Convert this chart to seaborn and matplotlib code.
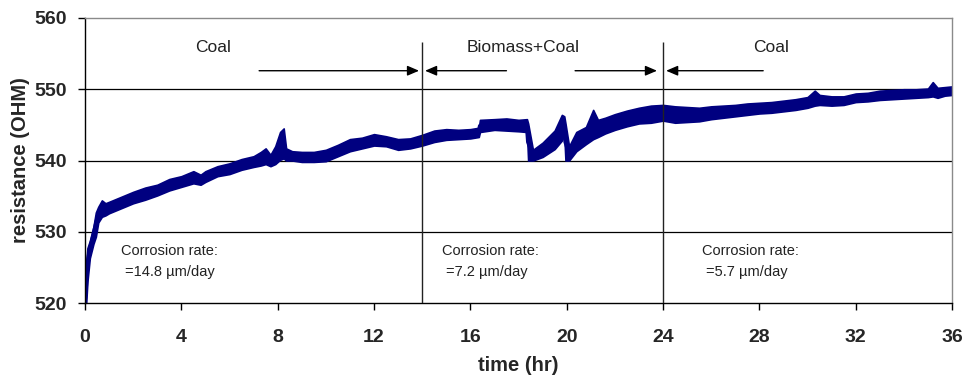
import numpy as np
import pandas as pd
import matplotlib
matplotlib.use("Agg")
import matplotlib.pyplot as plt
import seaborn as sns

# ---- data (lower / upper edge of the noisy trace) ----
time_hr = [0.00, 0.05, 0.10, 0.20, 0.35, 0.45, 0.55, 0.70, 0.85, 1.0, 1.5, 2.0, 2.5,
           3.0, 3.5, 4.0, 4.5, 4.8, 5.0, 5.5, 6.0, 6.5, 7.0, 7.3, 7.5, 7.7, 7.9,
           8.1, 8.25, 8.35, 8.6, 9.0, 9.5, 10.0, 10.5, 11.0, 11.5, 12.0, 12.5,
           13.0, 13.5, 14.0, 14.5, 15.0, 15.5, 16.0, 16.35, 16.4, 17.0, 17.5,
           18.0, 18.35, 18.4, 18.6, 19.0, 19.5, 19.8, 19.9, 19.95, 20.1, 20.4,
           20.8, 21.1, 21.3, 21.6, 22.0, 22.5, 23.0, 23.5, 24.0, 24.5, 25.0,
           25.5, 26.0, 26.5, 27.0, 27.5, 28.0, 28.5, 29.0, 29.5, 30.0, 30.3,
           30.5, 31.0, 31.5, 32.0, 32.5, 33.0, 33.5, 34.0, 34.5, 35.0, 35.2,
           35.4, 35.7, 36.0]
res_lo = [520.0, 520.0, 523.0, 526.3, 528.3, 529.3, 531.3, 532.1, 532.3, 532.6, 533.3,
          534.0, 534.5, 535.1, 535.8, 536.3, 536.8, 536.6, 537.0, 537.8, 538.1,
          538.7, 539.1, 539.3, 539.5, 539.2, 539.5, 540.1, 540.3, 540.0, 540.0,
          539.8, 539.8, 539.9, 540.6, 541.3, 541.7, 542.1, 542.0, 541.5, 541.7,
          542.1, 542.6, 542.9, 543.0, 543.1, 543.3, 544.0, 544.3, 544.2, 544.1,
          544.0, 540.0, 540.0, 540.5, 541.6, 542.8, 543.6, 540.0, 540.0, 541.3,
          542.3, 543.0, 543.3, 543.8, 544.3, 544.8, 545.2, 545.3, 545.6, 545.3,
          545.4, 545.5, 545.8, 546.0, 546.2, 546.4, 546.6, 546.7, 546.9, 547.1,
          547.4, 547.7, 547.8, 547.7, 547.8, 548.2, 548.3, 548.5, 548.6, 548.7,
          548.8, 548.9, 549.0, 548.8, 549.1, 549.2]
res_hi = [521.0, 525.7, 527.7, 528.7, 530.7, 532.7, 533.5, 534.4, 534.0, 534.2, 534.9,
          535.6, 536.2, 536.6, 537.4, 537.8, 538.5, 538.0, 538.5, 539.2, 539.6,
          540.2, 540.6, 541.2, 541.7, 540.8, 542.0, 544.0, 544.5, 541.7, 541.3,
          541.2, 541.2, 541.5, 542.2, 543.0, 543.2, 543.7, 543.4, 543.0, 543.1,
          543.6, 544.2, 544.4, 544.3, 544.4, 544.6, 545.7, 545.8, 545.9, 545.7,
          545.8, 545.2, 541.5, 542.5, 544.2, 546.4, 546.2, 545.2, 542.0, 544.0,
          544.7, 547.1, 545.7, 546.0, 546.5, 547.0, 547.4, 547.7, 547.8, 547.6,
          547.5, 547.4, 547.6, 547.7, 547.8, 548.0, 548.1, 548.2, 548.4, 548.6,
          548.9, 549.8, 549.2, 549.0, 549.0, 549.4, 549.5, 549.8, 549.9, 550.0,
          550.0, 550.1, 551.0, 550.2, 550.3, 550.4]

x_ticks = [0, 4, 8, 12, 16, 20, 24, 28, 32, 36]
y_ticks = [520, 530, 540, 550, 560]
phase_bounds = [14, 24]
phase_labels = ["Coal", "Biomass+Coal", "Coal"]
phase_label_x = [5.3, 18.2, 28.5]
rate_values = ["=14.8 \u00b5m/day", "=7.2 \u00b5m/day", "=5.7 \u00b5m/day"]
rate_x = [1.5, 14.83, 25.62]

sns.set_style("white")
plt.rcParams["font.family"] = ["Liberation Sans", "DejaVu Sans"]

fig = plt.figure(figsize=(9.68, 3.83), dpi=100)
ax = fig.add_axes([85 / 968, 80 / 383, 867 / 968, 285 / 383])

df = pd.DataFrame({"time": np.concatenate([time_hr, time_hr]),
                   "res": np.concatenate([res_lo, res_hi])})
sns.lineplot(data=df, x="time", y="res", estimator="mean", errorbar=("pi", 100),
             color="#000080", lw=3, err_kws={"alpha": 1, "linewidth": 1.2,
                                              "edgecolor": "#000080"}, ax=ax)

ax.set_xlim(0, 36)
ax.set_ylim(520, 560)
ax.set_xticks(x_ticks)
ax.set_yticks(y_ticks)

for yv in y_ticks[1:-1]:
    ax.axhline(yv, color="black", lw=0.9, zorder=0.5)
for xv in phase_bounds:
    ax.vlines(xv, 520, 556.6, color="#222222", lw=1.0, zorder=3)

for s in ["left", "bottom"]:
    ax.spines[s].set_color("black")
    ax.spines[s].set_linewidth(1.0)
for s in ["top", "right"]:
    ax.spines[s].set_color("#8a8a8a")
    ax.spines[s].set_linewidth(1.0)

ax.tick_params(axis="both", direction="out", length=5, width=1, color="black",
               labelsize=14)
ax.tick_params(axis="x", pad=14, bottom=True, top=False)
ax.tick_params(axis="y", pad=8, left=True, right=False)
for lab in ax.get_xticklabels() + ax.get_yticklabels():
    lab.set_fontweight("bold")

ax.set_xlabel("time (hr)", fontsize=14.5, fontweight="bold", labelpad=7)
ax.set_ylabel("resistance (OHM)", fontsize=14.5, fontweight="bold", labelpad=3)

# phase labels
for lx, lt in zip(phase_label_x, phase_labels):
    ax.text(lx, 555.8, lt, ha="center", va="center", fontsize=12.5, color="#222222")

arrow_y = 552.6
arrows = [(7.23, 13.87), (17.5, 14.12), (20.35, 23.75), (28.16, 24.13)]
for x0, x1 in arrows:
    ax.annotate("", xy=(x1, arrow_y), xytext=(x0, arrow_y),
                arrowprops=dict(arrowstyle="-|>,head_length=0.7,head_width=0.3",
                                color="black", lw=1, shrinkA=0, shrinkB=0))

for rx, rv in zip(rate_x, rate_values):
    ax.text(rx, 527.3, "Corrosion rate:", ha="left", va="center", fontsize=10.5,
            color="#222222")
    ax.text(rx + 0.15, 524.4, rv, ha="left", va="center", fontsize=10.5,
            color="#222222")

fig.savefig("out.png", dpi=100)
